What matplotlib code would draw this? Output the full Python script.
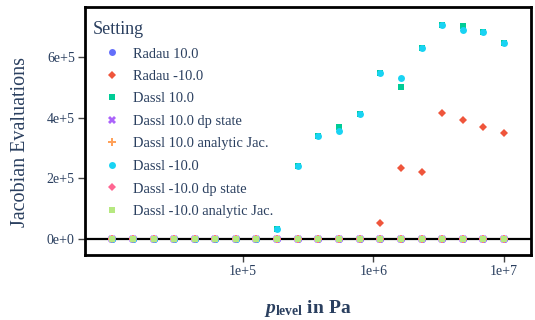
import matplotlib
matplotlib.use('Agg')
import matplotlib.pyplot as plt
from matplotlib.ticker import FixedLocator, FuncFormatter, NullLocator
import numpy as np

plt.rcParams['font.family'] = ['Liberation Serif', 'DejaVu Serif']
plt.rcParams['mathtext.fontset'] = 'custom'
plt.rcParams['mathtext.it'] = 'Liberation Serif:bold:italic'
plt.rcParams['mathtext.rm'] = 'Liberation Serif:bold'
plt.rcParams['mathtext.bf'] = 'Liberation Serif:bold'

# pressure levels (20 log-spaced points, 1e4 .. 1e7 Pa)
p_level = [1.00e4, 1.44e4, 2.07e4, 2.98e4, 4.28e4, 6.16e4, 8.86e4, 1.27e5,
           1.83e5, 2.64e5, 3.79e5, 5.46e5, 7.85e5, 1.13e6, 1.62e6, 2.34e6,
           3.36e6, 4.83e6, 6.95e6, 1.00e7]

zeros = [0] * 20
radau_pos = zeros
radau_neg = [0, 0, 0, 0, 0, 0, 0, 0, 0, 0, 0, 0, 0,
             54000, 234000, 221000, 416000, 392000, 370000, 348000]
dassl_pos = [0, 0, 0, 0, 0, 0, 0, 0,
             32000, 240000, 338000, 368000, 411000, 546000, 500000, 628000,
             704000, 702000, 682000, 645000]
dassl_pos_dp = zeros
dassl_pos_jac = zeros
dassl_neg = [0, 0, 0, 0, 0, 0, 0, 0,
             32000, 240000, 338000, 355000, 411000, 546000, 532000, 628000,
             704000, 689000, 682000, 645000]
dassl_neg_dp = zeros
dassl_neg_jac = zeros

labels = ['Radau 10.0', 'Radau -10.0', 'Dassl 10.0', 'Dassl 10.0 dp state',
          'Dassl 10.0 analytic Jac.', 'Dassl -10.0', 'Dassl -10.0 dp state',
          'Dassl -10.0 analytic Jac.']
series = [radau_pos, radau_neg, dassl_pos, dassl_pos_dp, dassl_pos_jac,
          dassl_neg, dassl_neg_dp, dassl_neg_jac]
colors = ['#636efa', '#EF553B', '#00cc96', '#ab63fa', '#FFA15A', '#19d3f3',
          '#FF6692', '#B6E880']
markers = ['o', 'D', 's', 'X', 'P', 'o', 'D', 's']
msizes = [5, 3.8, 5, 5.5, 5.5, 5, 3.8, 5]

txt = '#2a3f5f'

fig = plt.figure(figsize=(5.35, 3.2), dpi=100)
ax = fig.add_axes([84.5 / 535, 1 - 255 / 320, (531 - 84.5) / 535, (255 - 7) / 320])

ax.axhline(0, color='black', lw=1.6, zorder=1)
for y, lab, c, m, ms in zip(series, labels, colors, markers, msizes):
    ax.plot(p_level, y, linestyle='none', marker=m, markersize=ms, color=c,
            markeredgewidth=0, label=lab, zorder=3)

ax.set_xscale('log')
ax.set_xlim(10 ** 3.787, 10 ** 7.207)
ax.set_ylim(-52700, 764400)

ax.xaxis.set_major_locator(FixedLocator([1e5, 1e6, 1e7]))
ax.xaxis.set_minor_locator(NullLocator())
ax.xaxis.set_major_formatter(FuncFormatter(lambda v, p: '1e+%d' % round(np.log10(v))))
ax.yaxis.set_major_locator(FixedLocator([0, 2e5, 4e5, 6e5]))


def yfmt(v, pos):
    if v == 0:
        return '0e+0'
    k = int(np.floor(np.log10(abs(v))))
    return '%de+%d' % (round(v / 10 ** k), k)


ax.yaxis.set_major_formatter(FuncFormatter(yfmt))
ax.tick_params(axis='both', length=5, width=1, color='#444444', labelcolor=txt,
               labelsize=10, pad=2)

for s in ax.spines.values():
    s.set_color('black')
    s.set_linewidth(2)

fig.text(21 / 535, 1 - 142 / 320, 'Jacobian Evaluations', color=txt,
         fontsize=14.5, rotation=90, ha='center', va='center')
fig.text(308 / 535, 1 - 313 / 320, r'$p_{\mathrm{level}}$ in Pa', color=txt,
         fontsize=14, fontweight='bold', ha='center', va='baseline')

leg = ax.legend(loc='upper left', bbox_to_anchor=(92.7 / 535, 1 - 21 / 320),
                bbox_transform=fig.transFigure, frameon=False, title='Setting',
                fontsize=10.4, title_fontsize=13, alignment='left',
                handlelength=2.63, handletextpad=0.14, labelspacing=0.65,
                borderpad=0, borderaxespad=0)
for t in leg.get_texts():
    t.set_color(txt)
leg.get_title().set_color(txt)

fig.savefig('out.png', dpi=100)
